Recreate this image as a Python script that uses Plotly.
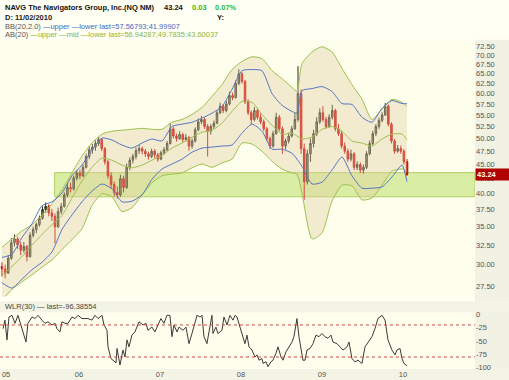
import numpy as np
import plotly.graph_objects as go

# ---------------- data ----------------
# bi-weekly candles, Jan 2005 .. Feb 2010
candle_first_year = 2005.05
candles_per_year = 26.0
open_ = [29.8, 29.5, 29.0, 30.8, 32.8, 33.3, 32.5, 31.8, 32.3, 31.0,
         33.8, 34.6, 35.3, 36.2, 37.5, 38.0, 37.0, 36.5, 35.0, 37.2,
         38.0, 39.8, 41.0, 40.8, 42.6, 43.5, 43.0, 44.5, 46.5, 47.8,
         48.3, 49.0, 49.8, 48.0, 45.5, 43.0, 41.5, 40.2, 39.8, 42.5,
         41.0, 44.5, 45.8, 46.5, 47.6, 48.0, 47.5, 47.0, 46.5, 47.5,
         46.8, 46.0, 47.2, 47.8, 49.0, 52.0, 50.5, 50.0, 50.8, 49.8,
         50.2, 48.5, 49.5, 51.8, 53.5, 54.0, 52.5, 51.5, 52.5, 53.2,
         55.5, 57.0, 56.0, 57.5, 59.5, 59.0, 62.5, 65.0, 63.0, 58.0,
         55.5, 54.0, 56.0, 54.5, 53.5, 52.0, 50.0, 48.5, 51.0, 54.5,
         52.0, 48.5, 49.5, 50.5, 52.0, 54.0, 60.0, 48.0, 42.0, 47.0,
         49.0, 51.0, 53.5, 55.5, 54.0, 52.5, 54.5, 56.0, 52.0, 51.0,
         48.5, 47.5, 46.0, 47.0, 44.5, 45.0, 44.0, 44.5, 47.0, 49.0,
         51.0, 52.5, 53.8, 55.0, 57.0, 53.0, 49.5, 47.5, 48.0, 47.5,
         45.5]
high = [30.3, 30.0, 31.2, 33.4, 33.9, 33.6, 32.9, 32.9, 32.5, 34.2,
        35.0, 35.6, 36.6, 38.0, 38.6, 38.3, 37.6, 36.9, 37.8, 38.5,
        40.2, 41.6, 41.8, 43.0, 44.0, 44.1, 45.0, 47.0, 48.4, 48.9,
        49.6, 50.3, 50.0, 48.3, 45.9, 43.6, 42.0, 41.2, 43.2, 43.0,
        45.2, 46.3, 47.0, 48.2, 48.7, 48.4, 47.9, 47.4, 48.0, 47.9,
        47.2, 47.6, 48.3, 49.5, 53.2, 52.4, 51.0, 51.5, 51.2, 50.9,
        50.5, 50.0, 52.3, 54.2, 54.8, 54.4, 53.0, 53.0, 53.8, 56.0,
        57.8, 57.5, 58.2, 60.4, 60.2, 63.2, 66.2, 65.5, 63.4, 58.6,
        56.0, 56.8, 56.6, 55.4, 54.0, 52.4, 50.4, 51.6, 55.5, 55.0,
        52.5, 50.0, 51.2, 52.6, 55.5, 67.0, 61.0, 49.0, 47.8, 50.0,
        51.8, 54.5, 56.5, 57.0, 54.6, 55.2, 57.3, 56.4, 53.0, 51.5,
        49.2, 48.0, 47.8, 47.3, 45.6, 45.4, 45.0, 47.5, 49.6, 51.6,
        53.0, 54.4, 55.6, 57.7, 57.4, 53.4, 49.9, 48.7, 48.6, 47.9,
        46.0]
low = [28.6, 28.4, 28.9, 30.6, 32.3, 32.0, 31.2, 31.5, 30.4, 30.9,
       33.5, 34.1, 35.0, 36.0, 37.0, 36.5, 35.8, 32.7, 34.8, 36.8,
       37.8, 39.4, 40.2, 40.5, 42.2, 42.4, 42.8, 44.3, 46.0, 47.0,
       47.6, 48.5, 47.5, 45.0, 42.5, 40.8, 39.5, 39.2, 39.5, 40.2,
       40.8, 44.0, 45.2, 46.0, 47.0, 46.9, 46.4, 45.9, 46.2, 46.2,
       45.5, 45.8, 46.8, 47.5, 48.8, 50.0, 49.4, 49.7, 49.2, 49.4,
       47.6, 48.0, 49.2, 51.5, 53.0, 52.0, 46.5, 50.8, 52.0, 53.0,
       55.2, 55.4, 55.6, 57.2, 58.4, 58.8, 62.0, 62.4, 57.5, 55.0,
       53.0, 53.6, 54.0, 53.0, 51.5, 49.5, 47.9, 48.2, 50.8, 51.5,
       47.0, 47.8, 49.0, 50.2, 51.8, 53.5, 47.0, 39.0, 41.5, 45.5,
       48.2, 50.5, 53.0, 53.5, 52.0, 52.2, 54.0, 51.5, 50.5, 48.0,
       47.0, 45.5, 45.6, 44.0, 44.0, 43.5, 43.4, 44.2, 46.7, 48.6,
       50.5, 52.0, 53.4, 54.8, 52.5, 49.0, 47.0, 47.2, 47.0, 45.0,
       43.0]
close = [29.5, 29.0, 30.8, 32.8, 33.3, 32.5, 31.8, 32.3, 31.0, 33.8,
         34.6, 35.3, 36.2, 37.5, 38.0, 37.0, 36.5, 35.0, 37.2, 38.0,
         39.8, 41.0, 40.8, 42.6, 43.5, 43.0, 44.5, 46.5, 47.8, 48.3,
         49.0, 49.8, 48.0, 45.5, 43.0, 41.5, 40.2, 39.8, 42.5, 41.0,
         44.5, 45.8, 46.5, 47.6, 48.0, 47.5, 47.0, 46.5, 47.5, 46.8,
         46.0, 47.2, 47.8, 49.0, 52.0, 50.5, 50.0, 50.8, 49.8, 50.2,
         48.5, 49.5, 51.8, 53.5, 54.0, 52.5, 51.5, 52.5, 53.2, 55.5,
         57.0, 56.0, 57.5, 59.5, 59.0, 62.5, 65.0, 63.0, 58.0, 55.5,
         54.0, 56.0, 54.5, 53.5, 52.0, 50.0, 48.5, 51.0, 54.5, 52.0,
         48.5, 49.5, 50.5, 52.0, 54.0, 60.0, 48.0, 42.0, 47.0, 49.0,
         51.0, 53.5, 55.5, 54.0, 52.5, 54.5, 56.0, 52.0, 51.0, 48.5,
         47.5, 46.0, 47.0, 44.5, 45.0, 44.0, 44.5, 47.0, 49.0, 51.0,
         52.5, 53.8, 55.0, 57.0, 53.0, 49.5, 47.5, 48.0, 47.5, 45.5,
         43.24]

# band samples (decimal years)
band_years = [2005.049, 2005.173, 2005.296, 2005.420, 2005.543, 2005.667, 2005.790, 2005.914,
              2006.037, 2006.160, 2006.284, 2006.407, 2006.531, 2006.654, 2006.778, 2006.901,
              2007.025, 2007.148, 2007.272, 2007.395, 2007.519, 2007.642, 2007.765, 2007.889,
              2008.012, 2008.136, 2008.259, 2008.383, 2008.506, 2008.630, 2008.691, 2008.753, 2008.877,
              2009.000, 2009.123, 2009.247, 2009.370, 2009.494, 2009.617, 2009.741, 2009.864, 2009.988,
              2010.049]
ab_upper = [32.2, 33.3, 34.4, 35.3, 36.7, 38.4, 40.6, 43.5, 46.6, 49.1,
            50.9, 51.5, 51.7, 51.9, 52.1, 51.9, 51.9, 53.4, 54.0, 55.1,
            56.7, 59.3, 62.2, 66.1, 68.3, 69.6, 69.1, 65.8, 63.7, 61.5,
            60.5, 67.7, 71.0, 72.5, 71.0, 66.4, 62.2, 58.6, 54.0, 56.3,
            58.6, 57.9, 56.94]
ab_mid = [28.7, 29.8, 31.0, 32.5, 33.9, 35.3, 36.6, 39.3, 42.1, 44.5,
          46.2, 45.8, 44.9, 44.4, 44.9, 45.8, 46.7, 48.1, 49.1, 50.3,
          51.3, 51.7, 53.2, 55.8, 58.1, 57.9, 55.1, 52.8, 50.9, 51.1,
          50.5, 49.9, 50.3, 51.9, 52.5, 51.5, 49.5, 49.1, 48.5, 49.9,
          50.9, 50.9, 49.78]
ab_lower = [26.0, 27.15, 28.0, 28.8, 29.7, 30.6, 31.9, 33.2, 34.7, 38.1,
            40.0, 39.5, 37.2, 37.8, 39.8, 41.8, 43.0, 43.3, 43.5, 44.4,
            45.1, 44.5, 45.3, 46.0, 49.1, 48.9, 47.5, 45.6, 44.2, 43.5,
            43.3, 40.1, 33.3, 34.1, 38.8, 41.4, 41.3, 39.0, 39.3, 41.4,
            43.8, 44.2, 43.60]
bb_upper = [30.9, 31.3, 33.5, 35.4, 38.1, 38.7, 40.1, 43.0, 44.9, 47.7,
            50.1, 49.7, 48.7, 48.1, 49.1, 49.9, 49.5, 52.5, 53.0, 53.4,
            54.3, 55.4, 56.9, 61.0, 65.8, 66.1, 65.8, 60.0, 57.2, 55.8,
            55.4, 60.7, 61.2, 61.7, 60.5, 57.6, 57.4, 54.5, 53.4, 56.5,
            58.3, 57.6, 57.57]
bb_lower = [27.9, 27.3, 28.3, 29.4, 30.3, 31.6, 34.6, 36.7, 38.7, 40.4,
            41.6, 40.8, 38.7, 38.8, 39.8, 42.4, 44.2, 45.1, 46.0, 47.3,
            48.1, 48.3, 48.5, 48.7, 51.1, 53.0, 51.5, 47.9, 47.9, 47.1,
            46.0, 44.7, 41.6, 41.9, 44.0, 46.4, 43.0, 40.9, 40.9, 41.1,
            42.8, 44.9, 42.0]

# Williams %R (30)
wlr_years = [2005.062, 2005.086, 2005.111, 2005.136, 2005.173, 2005.210, 2005.247, 2005.284, 2005.309, 2005.346,
             2005.370, 2005.420, 2005.457, 2005.494, 2005.543, 2005.580, 2005.617, 2005.667, 2005.704, 2005.728,
             2005.765, 2005.790, 2005.827, 2005.864, 2005.914, 2005.951, 2005.988, 2006.037, 2006.074, 2006.111,
             2006.160, 2006.198, 2006.235, 2006.284, 2006.309, 2006.346, 2006.358, 2006.395, 2006.420, 2006.457,
             2006.469, 2006.506, 2006.543, 2006.568, 2006.593, 2006.617, 2006.654, 2006.691, 2006.741, 2006.790,
             2006.827, 2006.852, 2006.901, 2006.938, 2006.975, 2007.012, 2007.049, 2007.086, 2007.123, 2007.148,
             2007.173, 2007.210, 2007.235, 2007.284, 2007.321, 2007.358, 2007.395, 2007.420, 2007.457, 2007.494,
             2007.519, 2007.543, 2007.580, 2007.605, 2007.642, 2007.654, 2007.691, 2007.716, 2007.765, 2007.790,
             2007.827, 2007.864, 2007.901, 2007.926, 2007.951, 2007.988, 2008.025, 2008.049, 2008.074, 2008.099,
             2008.136, 2008.173, 2008.198, 2008.222, 2008.259, 2008.272, 2008.309, 2008.333, 2008.370, 2008.395,
             2008.432, 2008.457, 2008.494, 2008.519, 2008.556, 2008.580, 2008.630, 2008.654, 2008.691, 2008.716,
             2008.741, 2008.765, 2008.790, 2008.815, 2008.852, 2008.889, 2008.926, 2008.963, 2009.000, 2009.037,
             2009.074, 2009.111, 2009.136, 2009.185, 2009.222, 2009.259, 2009.309, 2009.333, 2009.370, 2009.407,
             2009.444, 2009.494, 2009.531, 2009.568, 2009.617, 2009.654, 2009.691, 2009.741, 2009.778, 2009.815,
             2009.864, 2009.901, 2009.926, 2009.963, 2009.988, 2010.012, 2010.049]
wlr_values = [-27, -11, -48, -5, -2, -17, -2, -20, -30, -52,
              -17, -5, -8, -2, -11, -17, -14, -20, -17, -27,
              -33, -14, -17, -17, -5, -8, -2, -8, -8, -8,
              -11, -2, -8, -2, -20, -30, -61, -83, -86, -91,
              -64, -95, -67, -80, -48, -61, -39, -33, -14, -20,
              -17, -30, -24, -33, -20, -8, -17, -2, -2, -42,
              -20, -33, -24, -30, -24, -55, -36, -24, -2, -5,
              -2, -42, -55, -33, -2, -36, -24, -36, -30, -5,
              -20, -2, -11, -2, -5, -24, -42, -55, -39, -61,
              -67, -80, -76, -86, -83, -92, -89, -98, -89, -86,
              -73, -61, -80, -86, -70, -64, -52, -42, -8, -42,
              -61, -86, -86, -67, -64, -55, -39, -42, -36, -42,
              -45, -39, -52, -55, -61, -67, -61, -52, -83, -89,
              -86, -92, -61, -52, -42, -27, -8, -2, -11, -48,
              -67, -76, -67, -64, -83, -92, -96.38554]

price_ticks = [27.5, 30.0, 32.5, 35.0, 37.5, 40.0, 42.5, 45.0, 47.5, 50.0, 52.5,
               55.0, 57.5, 60.0, 62.5, 65.0, 67.5, 70.0, 72.5]
wlr_ticks = [0, -25, -50, -75, -100]
wlr_levels = [-20, -80]
year_ticks = [2005.1, 2006, 2007, 2008, 2009, 2010]
year_labels = ["05", "06", "07", "08", "09", "10"]

zone_low, zone_high, zone_start = 39.5, 43.55, 2005.70
last_price = 43.24

# ---------------- styling ----------------
FONT = "Liberation Sans, Arial, sans-serif"
AB_COL = "#9DC24E"
BB_COL = "#5877C4"
PAPER = "#FFFFF4"
H = 368.0  # plot height in px (t=0, b=12)


def py(p):
    return 1 - p / H


candle_years = candle_first_year + np.arange(len(close)) / candles_per_year

fig = go.Figure()

fig.add_trace(go.Scatter(x=band_years, y=ab_lower, mode="lines",
                         line=dict(color=AB_COL, width=1, shape="spline", smoothing=0.6),
                         hoverinfo="skip", showlegend=False))
fig.add_trace(go.Scatter(x=band_years, y=ab_upper, mode="lines",
                         line=dict(color=AB_COL, width=1, shape="spline", smoothing=0.6),
                         fill="tonexty", fillcolor="rgba(226,205,160,0.38)",
                         hoverinfo="skip", showlegend=False))
fig.add_trace(go.Scatter(x=band_years, y=ab_mid, mode="lines",
                         line=dict(color=AB_COL, width=1, shape="spline", smoothing=0.6),
                         hoverinfo="skip", showlegend=False))
fig.add_trace(go.Scatter(x=band_years, y=bb_upper, mode="lines",
                         line=dict(color=BB_COL, width=1, shape="spline", smoothing=0.6),
                         hoverinfo="skip", showlegend=False))
fig.add_trace(go.Scatter(x=band_years, y=bb_lower, mode="lines",
                         line=dict(color=BB_COL, width=1, shape="spline", smoothing=0.6),
                         hoverinfo="skip", showlegend=False))
fig.add_trace(go.Candlestick(x=candle_years, open=open_, high=high, low=low, close=close,
                             increasing=dict(line=dict(color="#2A2A20", width=1), fillcolor="#8E8870"),
                             decreasing=dict(line=dict(color="#C80000", width=1), fillcolor="#D01818"),
                             whiskerwidth=0, showlegend=False))
fig.add_trace(go.Scatter(x=wlr_years, y=wlr_values, mode="lines", xaxis="x2", yaxis="y2",
                         line=dict(color="#3A3A3A", width=1), showlegend=False))

x_range = [2005.025, 2010.889]
axis_font = dict(family=FONT, size=7.5, color="#555555")

shapes = [
    # zone rectangle
    dict(type="rect", xref="x", yref="y", x0=zone_start, x1=x_range[1], y0=zone_low, y1=zone_high,
         fillcolor="rgba(196,226,120,0.62)", line=dict(color="#B2D062", width=1), layer="below"),
    # right axis column
    dict(type="rect", xref="paper", yref="paper", x0=1.0, x1=509 / 475, y0=py(380), y1=py(38),
         fillcolor="#F1F1E4", line=dict(width=0), layer="below"),
    # WLR header strip
    dict(type="rect", xref="paper", yref="paper", x0=0, x1=509 / 475, y0=py(312), y1=py(301),
         fillcolor="#F4F4E4", line=dict(width=0), layer="below"),
    # bottom x label strip
    dict(type="rect", xref="paper", yref="paper", x0=0, x1=509 / 475, y0=py(380), y1=py(369),
         fillcolor="#F4F4E4", line=dict(width=0), layer="below"),
]
for lv in wlr_levels:
    shapes.append(dict(type="line", xref="paper", yref="y2", x0=0, x1=1, y0=lv, y1=lv,
                       line=dict(color="#D04848", width=1, dash="dot"), layer="above"))

hdr = dict(xref="paper", yref="paper", xanchor="left", yanchor="middle", showarrow=False)
annotations = [
    dict(x=3 / 475, y=py(6), text="<b>NAVG The Navigators Group, Inc.(NQ NM)</b>",
         font=dict(family=FONT, size=7.5, color="#111111"), **hdr),
    dict(x=162 / 475, y=py(6), text="<b>43.24</b>", font=dict(family=FONT, size=7.5, color="#111111"), **hdr),
    dict(x=190 / 475, y=py(6), text="<b>0.03</b>", font=dict(family=FONT, size=7.5, color="#2EB82E"), **hdr),
    dict(x=213 / 475, y=py(6), text="<b>0.07%</b>", font=dict(family=FONT, size=7.5, color="#2EB82E"), **hdr),
    dict(x=3 / 475, y=py(16), text="<b>D: 11/02/2010</b>", font=dict(family=FONT, size=7.5, color="#222222"), **hdr),
    dict(x=215 / 475, y=py(16), text="<b>Y:</b>", font=dict(family=FONT, size=7.5, color="#222222"), **hdr),
    dict(x=3 / 475, y=py(24.5),
         text="BB(20,2.0) <span style='color:%s'>\u2014upper \u2014lower last=57.56793;41.99907</span>" % "#4A68C0",
         font=dict(family=FONT, size=7.5, color="#555555"), **hdr),
    dict(x=3 / 475, y=py(33),
         text="AB(20) <span style='color:%s'>\u2014upper \u2014mid \u2014lower last=56.94287;49.7835;43.60037</span>" % "#8DB43E",
         font=dict(family=FONT, size=7.5, color="#555555"), **hdr),
    dict(x=3 / 475, y=py(306.5), text="WLR(30) \u2014 last=-96.38554",
         font=dict(family=FONT, size=7.5, color="#444444"), **hdr),
    dict(x=1.0, xref="paper", y=float(np.log10(last_price)), yref="y", xanchor="left", yanchor="middle",
         text="<b>43.24</b>", showarrow=False, bgcolor="#B00000", width=31, align="left",
         borderpad=1, font=dict(family=FONT, size=7.5, color="#FFFFFF")),
]

fig.update_layout(
    width=509, height=380,
    margin=dict(l=0, r=34, t=0, b=12),
    paper_bgcolor=PAPER,
    plot_bgcolor="#FEFEEC",
    showlegend=False,
    font=dict(family=FONT, size=7.5, color="#555555"),
    xaxis=dict(domain=[0, 1], range=x_range, anchor="y", showticklabels=False, showgrid=False,
               zeroline=False, showline=False, ticks="", rangeslider=dict(visible=False)),
    yaxis=dict(domain=[py(296), py(38)], type="log", range=[1.4215, 1.8725], side="right",
               tickvals=price_ticks, ticktext=["%.2f" % v for v in price_ticks],
               tickfont=axis_font, showgrid=False, zeroline=False, ticks="", showline=False),
    xaxis2=dict(domain=[0, 1], range=x_range, anchor="y2", tickvals=year_ticks, ticktext=year_labels,
                tickfont=axis_font, showgrid=False, zeroline=False, ticks="", showline=False),
    yaxis2=dict(domain=[0, py(312)], range=[-100.6, 3.7], side="right", tickvals=wlr_ticks,
                ticktext=[str(v) for v in wlr_ticks], tickfont=axis_font, showgrid=False,
                zeroline=False, ticks="", showline=False, anchor="x2"),
    shapes=shapes,
    annotations=annotations,
)

# remove the default page margin so the 509x380 figure fills the window exactly
fig.write_html("out.html", config={"displayModeBar": False},
               post_script="document.body.style.margin='0';document.body.style.background='%s';" % PAPER)
